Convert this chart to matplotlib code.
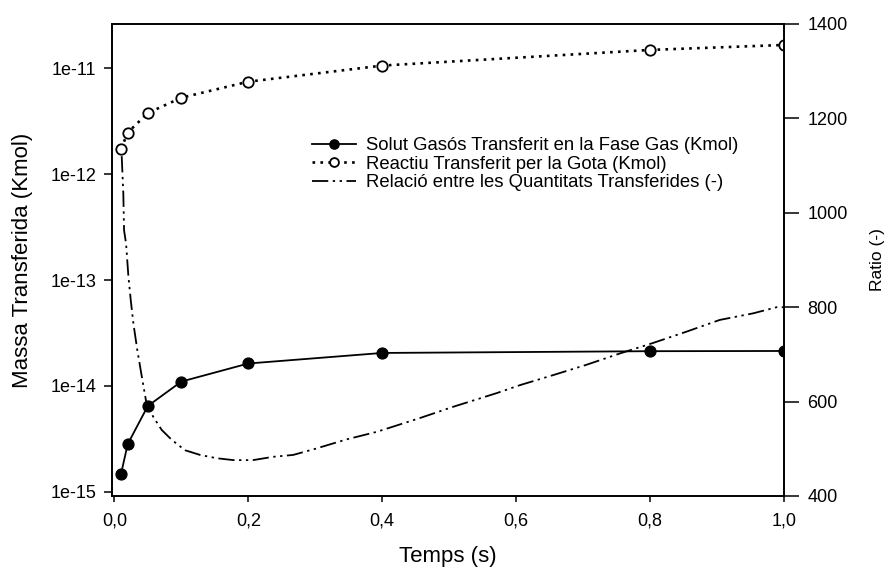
import matplotlib
matplotlib.use("Agg")
import matplotlib.pyplot as plt
import numpy as np
from matplotlib.ticker import FixedLocator, FuncFormatter, NullLocator

plt.rcParams['font.family'] = ['Liberation Sans', 'DejaVu Sans']

# Sampled times (s) for the two transferred quantities
t_points = [0.01, 0.02, 0.05, 0.1, 0.2, 0.4, 0.8, 1.0]
solut_gas = [1.48e-15, 2.83e-15, 6.47e-15, 1.10e-14, 1.63e-14, 2.05e-14, 2.13e-14, 2.14e-14]
reactiu_gota = [1.73e-12, 2.47e-12, 3.78e-12, 5.27e-12, 7.47e-12, 1.06e-11, 1.49e-11, 1.66e-11]

# Ratio between the transferred quantities (right axis)
t_ratio = [0.011, 0.0134, 0.0145, 0.0175, 0.021, 0.0245, 0.0284, 0.0343, 0.041,
           0.048, 0.058, 0.0707, 0.0857, 0.1055, 0.128, 0.153, 0.178, 0.207,
           0.237, 0.267, 0.30, 0.347, 0.392, 0.456, 0.506, 0.571, 0.606, 0.655,
           0.705, 0.755, 0.804, 0.854, 0.904, 0.954, 0.989, 1.0]
ratio = [1120, 1041, 963, 935, 865, 815, 766, 709, 653,
         596, 568, 540, 519, 497, 487, 480, 476, 476,
         483, 487, 500, 520, 536, 565, 589, 618, 635, 656,
         678, 702, 724, 748, 773, 787, 800, 800]

labels = ["Solut Gasós Transferit en la Fase Gas (Kmol)",
          "Reactiu Transferit per la Gota (Kmol)",
          "Relació entre les Quantitats Transferides (-)"]

left_ticks = [1e-15, 1e-14, 1e-13, 1e-12, 1e-11]
right_ticks = [400, 600, 800, 1000, 1200, 1400]
x_ticks = [0.0, 0.2, 0.4, 0.6, 0.8, 1.0]

fig = plt.figure(figsize=(8.9, 5.74), dpi=100)
ax = fig.add_axes([112 / 890, 78 / 574, 672 / 890, 472 / 574])
ax2 = ax.twinx()

l1, = ax.plot(t_points, solut_gas, color='black', lw=1.3, marker='o',
              markersize=7.8, markerfacecolor='black', markeredgecolor='black')
l2, = ax.plot(t_points, reactiu_gota, color='black', lw=1.9, dashes=(1, 2),
              marker='o', markersize=7.5, markerfacecolor='white',
              markeredgecolor='black', markeredgewidth=1.3)
l3, = ax2.plot(t_ratio, ratio, color='black', lw=1.3,
               dashes=(9, 2.5, 1.3, 2.5, 1.3, 2.5))

ax.set_yscale('log')
ax.set_xlim(-0.0035, 1.0)
ax.set_ylim(10 ** -15.039, 10 ** -10.582)
ax2.set_ylim(400, 1400)

ax.yaxis.set_major_locator(FixedLocator(left_ticks))
ax.yaxis.set_minor_locator(NullLocator())
ax.yaxis.set_major_formatter(FuncFormatter(lambda v, p: f"1e{int(round(np.log10(v)))}"))
ax.set_xticks(x_ticks)
ax.xaxis.set_major_formatter(FuncFormatter(lambda v, p: f"{v:.1f}".replace('.', ',')))
ax2.set_yticks(right_ticks)

for a in (ax, ax2):
    for s in a.spines.values():
        s.set_linewidth(1.2)
ax.tick_params(axis='y', direction='out', length=5.5, width=1.1, labelsize=13, pad=6)
ax.tick_params(axis='x', direction='out', length=4, width=1.1, labelsize=13, pad=8)
ax2.tick_params(axis='y', direction='out', length=10.8, width=1.1, labelsize=13, pad=6)

ax.set_xlabel("Temps (s)", fontsize=16)
ax.set_ylabel("Massa Transferida (Kmol)", fontsize=16)
ax2.set_ylabel("Ratio (-)", fontsize=12.5)
ax.xaxis.set_label_coords(0.5, -0.105)
ax.yaxis.set_label_coords(-0.118, 0.5)
ax2.yaxis.set_label_coords(1.128, 0.5)

ax2.legend([l1, l2, l3], labels, loc='upper left', bbox_to_anchor=(0.297, 0.760),
           frameon=False, fontsize=13.3, handlelength=2.4, handletextpad=0.55,
           labelspacing=0.08, borderpad=0, borderaxespad=0, numpoints=1,
           markerscale=0.85)

fig.savefig("out.png", dpi=100)
